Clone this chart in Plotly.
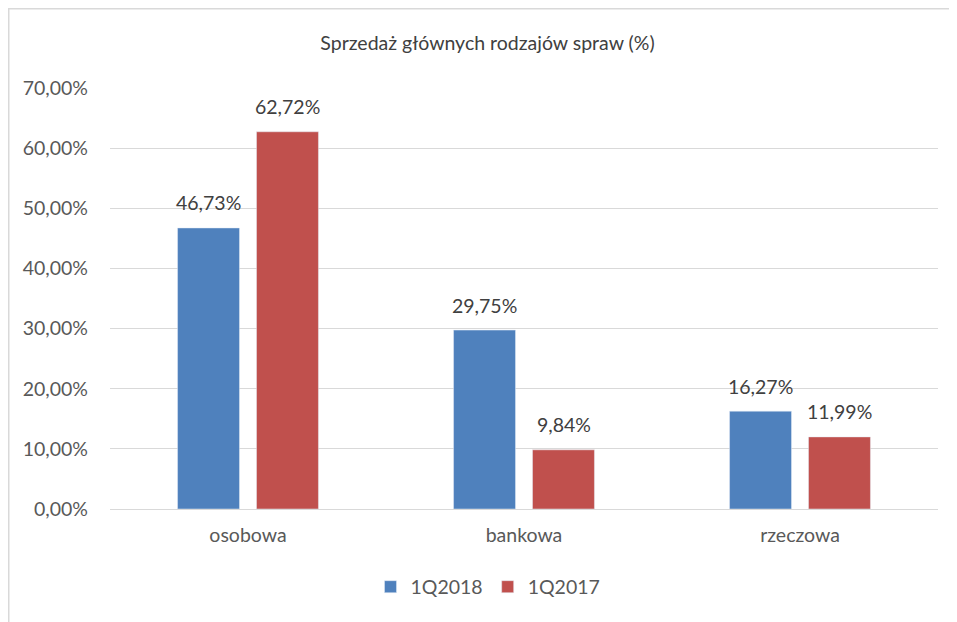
import plotly.graph_objects as go

categories = ["osobowa", "bankowa", "rzeczowa"]
series_2018 = [46.73, 29.75, 16.27]
series_2017 = [62.72, 9.84, 11.99]
tick_vals = [0, 10, 20, 30, 40, 50, 60, 70]
tick_text = [f"{v:.2f}%".replace(".", ",") for v in tick_vals]

def fmt(v):
    return f"{v:.2f}%".replace(".", ",")

FONT = "Lato, Open Sans, sans-serif"
FS = 19.5
OFF = 8  # page body margin
W, H = 957 - OFF, 622 - OFF
L, R, T, B = 110 - OFF, 957 - 938, 88 - OFF, 622 - 509
pw, ph = W - L - R, H - T - B

fig = go.Figure()
fig.add_trace(go.Bar(name="1Q2018", x=categories, y=series_2018, marker_color="#4F81BD"))
fig.add_trace(go.Bar(name="1Q2017", x=categories, y=series_2017, marker_color="#C0504D"))

annotations = []
for cat, v in zip(categories, series_2018):
    annotations.append(dict(x=cat, y=v, text=fmt(v), showarrow=False, xshift=-39.5, yshift=25,
                            yanchor="middle", font=dict(size=FS, color="#404040")))
for cat, v in zip(categories, series_2017):
    annotations.append(dict(x=cat, y=v, text=fmt(v), showarrow=False, xshift=39.5, yshift=25,
                            yanchor="middle", font=dict(size=FS, color="#404040")))

fig.update_layout(
    width=W, height=H,
    margin=dict(l=L, r=R, t=T, b=B),
    paper_bgcolor="white", plot_bgcolor="white",
    font=dict(family=FONT, size=FS, color="#595959"),
    title=dict(text="Sprzedaż głównych rodzajów spraw (%)", x=479.5 / W, xanchor="center",
               y=1 - 35 / H, yanchor="middle", font=dict(size=FS, color="#404040")),
    barmode="group", bargap=0.428, bargroupgap=0.215,
    showlegend=True,
    legend=dict(orientation="h", xref="container", yref="container", x=480 / W, xanchor="center",
                y=1 - (587 - OFF) / H, yanchor="middle",
                font=dict(size=FS, color="#595959"), itemwidth=30, traceorder="normal"),
    xaxis=dict(showgrid=False, showline=False, ticks="", ticklabelstandoff=12,
               tickfont=dict(size=FS, color="#595959")),
    yaxis=dict(range=[0, 70], tickvals=tick_vals, ticktext=tick_text, showgrid=True,
               gridcolor="#D9D9D9", gridwidth=1, zeroline=True, zerolinecolor="#D9D9D9",
               zerolinewidth=1, showline=False, ticks="", ticklabelstandoff=21,
               tickfont=dict(size=FS, color="#595959")),
    annotations=annotations,
    shapes=[
        dict(type="line", xref="paper", yref="paper", x0=(0.75 - L) / pw, x1=(0.75 - L) / pw,
             y0=(H - B) / ph, y1=-(B + 5) / ph, line=dict(color="#D9D9D9", width=1.5)),
        dict(type="line", xref="paper", yref="paper", x0=(0.75 - L) / pw, x1=(W + 5 - L) / pw,
             y0=(H - B - 0.75) / ph, y1=(H - B - 0.75) / ph, line=dict(color="#D9D9D9", width=1.5)),
    ],
)

fig.write_html("out.html")
